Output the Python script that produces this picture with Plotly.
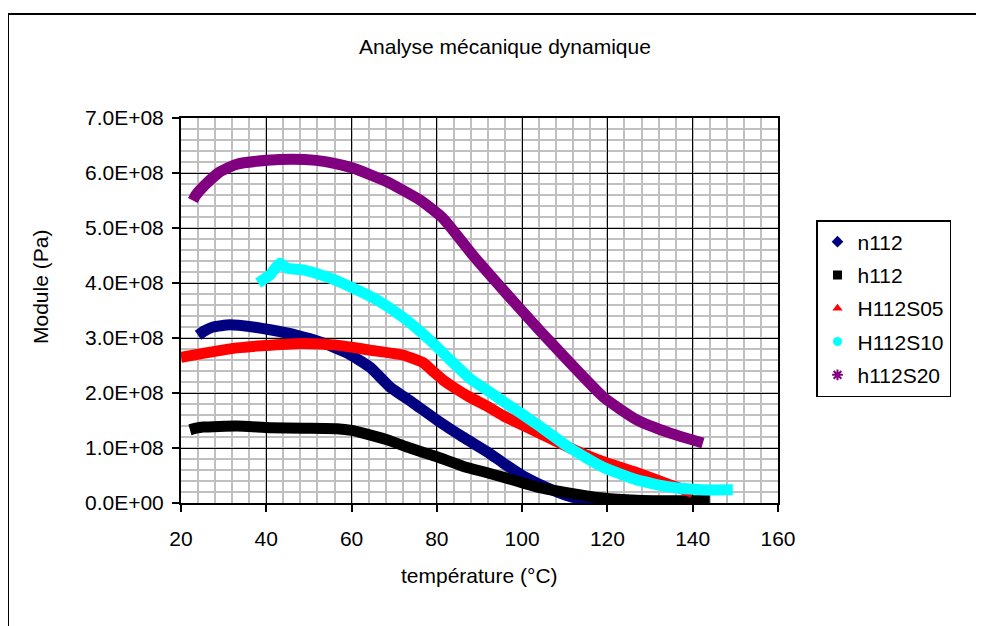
import plotly.graph_objects as go

# ---- data (temperature °C, modulus Pa) ----
n112_T = [24, 25.5, 27.5, 31.5, 36.9, 40.9, 47.2, 52.6, 58.9, 64.3, 69, 74.4, 80, 86.1,
          91.8, 95.5, 100, 103.5, 107, 111.2, 115, 119, 125, 130, 135, 140]
n112_V = [3.05e8, 3.13e8, 3.2e8, 3.24e8, 3.2e8, 3.15e8, 3.05e8, 2.93e8, 2.73e8, 2.47e8,
          2.11e8, 1.82e8, 1.51e8, 1.2e8, 0.93e8, 0.73e8, 0.5e8, 0.36e8, 0.24e8, 0.12e8,
          0.06e8, 0.03e8, 0.015e8, 0.01e8, 0.005e8, 0.0]

h112_T = [22.1, 23.5, 25.2, 33.1, 40.9, 48.6, 56.6, 60, 62.7, 68.3, 73.7, 80, 86.1, 91.8,
          95.5, 103.5, 111.2, 119, 126.9, 134.7, 140, 144]
h112_V = [1.33e8, 1.36e8, 1.38e8, 1.40e8, 1.37e8, 1.36e8, 1.35e8, 1.32e8, 1.27e8, 1.15e8,
          1.0e8, 0.84e8, 0.67e8, 0.55e8, 0.47e8, 0.29e8, 0.18e8, 0.09e8, 0.05e8, 0.04e8,
          0.04e8, 0.04e8]

H112S05_T = [20, 25.2, 33.1, 40.9, 48.6, 56.6, 64.3, 72, 76.8, 79, 81.4, 84, 87.8, 91.8,
             95.5, 103.5, 111.2, 119, 126.9, 134.7, 140]
H112S05_V = [2.65e8, 2.72e8, 2.82e8, 2.87e8, 2.9e8, 2.87e8, 2.78e8, 2.69e8, 2.55e8, 2.4e8,
             2.24e8, 2.1e8, 1.92e8, 1.76e8, 1.59e8, 1.29e8, 1.0e8, 0.75e8, 0.55e8, 0.33e8,
             0.19e8]

H112S10_T = [38.1, 40.9, 43.2, 44.8, 48.6, 54.2, 60.3, 66, 72, 78.4, 83.8, 87.8, 91.8,
             95.5, 103.5, 111.2, 119, 126.9, 134.7, 142.4, 149.4]
H112S10_V = [4.0e8, 4.15e8, 4.36e8, 4.27e8, 4.24e8, 4.11e8, 3.91e8, 3.69e8, 3.38e8, 2.96e8,
             2.55e8, 2.26e8, 2.05e8, 1.85e8, 1.43e8, 1.0e8, 0.65e8, 0.42e8, 0.29e8,
             0.24e8, 0.24e8]

h112S20_T = [22.8, 23.5, 25.2, 29.1, 33.1, 40.2, 46, 51.7, 55.6, 60.3, 64, 68.3, 76, 81.4,
             88.5, 96.4, 104.2, 111.2, 119, 126.9, 134.7, 142.4]
h112S20_V = [5.5e8, 5.6e8, 5.75e8, 6.02e8, 6.16e8, 6.23e8, 6.25e8, 6.23e8, 6.18e8, 6.09e8,
             5.98e8, 5.84e8, 5.51e8, 5.18e8, 4.5e8, 3.8e8, 3.13e8, 2.55e8, 1.93e8, 1.51e8,
             1.27e8, 1.09e8]

series_names = ["n112", "h112", "H112S05", "H112S10", "h112S20"]
series_T = [n112_T, h112_T, H112S05_T, H112S10_T, h112S20_T]
series_V = [n112_V, h112_V, H112S05_V, H112S10_V, h112S20_V]
colors = ["#000080", "#000000", "#FF0000", "#00FFFF", "#800080"]
symbols = ["diamond", "square", "triangle-up", "circle", "asterisk-open"]

y_tickvals = [0, 1e8, 2e8, 3e8, 4e8, 5e8, 6e8, 7e8]
y_ticktext = ["0.0E+00", "1.0E+08", "2.0E+08", "3.0E+08", "4.0E+08", "5.0E+08",
              "6.0E+08", "7.0E+08"]
x_tickvals = [20, 40, 60, 80, 100, 120, 140, 160]

FONT = "Arial, Liberation Sans, sans-serif"
FS = 21

fig = go.Figure()
for name, T, V, c in zip(series_names, series_T, series_V, colors):
    fig.add_trace(go.Scatter(x=T, y=V, mode="lines",
                             line=dict(color=c, width=11, shape="spline", smoothing=0.5),
                             showlegend=False, hoverinfo="skip"))
for name, c, s in zip(series_names, colors, symbols):
    mk = dict(color=c, symbol=s, size=9)
    if s == "asterisk-open":
        mk["line"] = dict(color=c, width=2)
    fig.add_trace(go.Scatter(x=[None], y=[None], mode="markers", name=name, marker=mk,
                             legendgroup=name, showlegend=True))

W, H = 984, 626
OFF = 8  # page body margin of the browser
L, R, T_, B = 181, 778, 118, 503

def px_x(px):
    return (px - L) / (R - L)

def px_y(py):
    return (B - py) / (B - T_)

fig.update_layout(
    width=W, height=H,
    margin=dict(l=L - OFF, r=W - R + OFF, t=T_ - OFF, b=H - B + OFF, pad=0),
    paper_bgcolor="white", plot_bgcolor="white",
    font=dict(family=FONT, size=FS, color="black"),
    title=dict(text="Analyse mécanique dynamique", x=(505 - OFF) / W, y=1 - (47 - OFF) / H,
               xanchor="center", yanchor="middle", font=dict(size=FS, family=FONT)),
    showlegend=True,
    legend=dict(x=px_x(816), y=px_y(220), xanchor="left", yanchor="top",
                bordercolor="black", borderwidth=1.5, bgcolor="white",
                font=dict(size=FS, family=FONT), tracegroupgap=3,
                traceorder="grouped", itemwidth=30),
    xaxis=dict(range=[20, 160], tickvals=x_tickvals, showgrid=True, gridcolor="black",
               gridwidth=1.2, showline=True, linecolor="black", linewidth=2, mirror=True,
               ticks="outside", ticklen=7, tickcolor="black", tickwidth=1.5, zeroline=False,
               ticklabelstandoff=9,
               minor=dict(dtick=4, showgrid=True, gridcolor="#C0C0C0", gridwidth=1.5, ticks=""),
               tickfont=dict(size=FS)),
    yaxis=dict(range=[0, 7e8], tickvals=y_tickvals, ticktext=y_ticktext, showgrid=True,
               gridcolor="black", gridwidth=1.2, showline=True, linecolor="black", linewidth=2,
               mirror=True, ticks="outside", ticklen=7, tickcolor="black", tickwidth=1.5,
               zeroline=False, ticklabelstandoff=4,
               minor=dict(dtick=2e7, tick0=0, showgrid=True, gridcolor="#C0C0C0", gridwidth=1.5, ticks=""),
               tickfont=dict(size=FS)),
    annotations=[
        dict(text="température (°C)", xref="paper", yref="paper", x=0.5, y=px_y(575),
             xanchor="center", yanchor="middle", showarrow=False, font=dict(size=FS)),
        dict(text="Module (Pa)", xref="paper", yref="paper", x=px_x(40), y=px_y(287),
             xanchor="center", yanchor="middle", showarrow=False, textangle=-90,
             font=dict(size=FS)),
    ],
    shapes=[
        dict(type="line", xref="paper", yref="paper", x0=px_x(8), x1=px_x(1100),
             y0=px_y(14), y1=px_y(14), line=dict(color="black", width=2)),
        dict(type="line", xref="paper", yref="paper", x0=px_x(8), x1=px_x(8),
             y0=px_y(14), y1=px_y(700), line=dict(color="black", width=2)),
    ],
)

fig.write_html("out.html")
